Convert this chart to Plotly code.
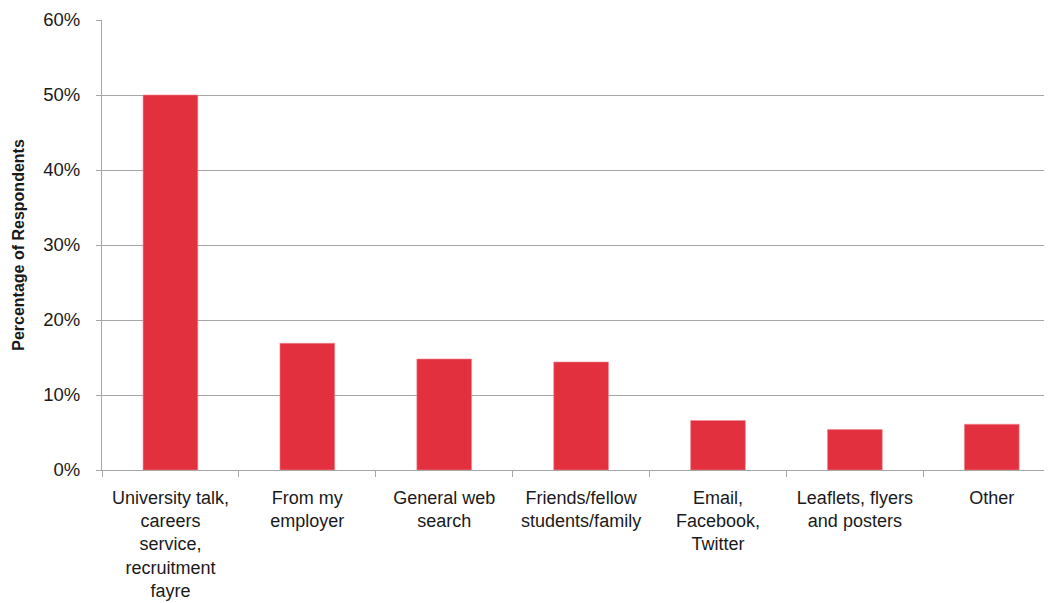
import plotly.graph_objects as go

# 數據
categories = [
    "University talk,<br>careers<br>service,<br>recruitment<br>fayre",
    "From my<br>employer",
    "General web<br>search",
    "Friends/fellow<br>students/family",
    "Email,<br>Facebook,<br>Twitter",
    "Leaflets, flyers<br>and posters",
    "Other",
]
percentages = [50.0, 16.9, 14.8, 14.4, 6.6, 5.4, 6.1]

BAR_COLOR = "#E3303F"
GRID_COLOR = "#A6A6A6"
FONT = "Liberation Sans, Arial, sans-serif"

fig = go.Figure()

fig.add_trace(
    go.Bar(x=categories, y=percentages,
           marker=dict(color=BAR_COLOR, line=dict(color="#F08A92", width=0.6)),
           width=0.4, showlegend=False)
)

# 頁面 body 有 8px 外距，故邊距整體左移/上移 8px
fig.update_layout(
    width=1052, height=603,
    margin=dict(l=94, r=8, t=12, b=141),
    plot_bgcolor="white", paper_bgcolor="white",
    font=dict(family=FONT, size=18, color="#1a1a1a"),
)

fig.update_xaxes(
    range=[-0.5, 6.44],
    automargin=False,
    showline=True, linecolor=GRID_COLOR, linewidth=1,
    ticks="outside", tickson="boundaries", ticklen=6, tickcolor=GRID_COLOR,
    ticklabelstandoff=11,
    tickfont=dict(size=18),
    showgrid=False,
)

fig.update_yaxes(
    range=[0, 60], dtick=10, ticksuffix="%",
    automargin=False,
    showgrid=True, gridcolor=GRID_COLOR, gridwidth=1,
    showline=True, linecolor=GRID_COLOR, linewidth=1,
    ticks="outside", ticklen=5, tickcolor=GRID_COLOR,
    ticklabelstandoff=12,
    tickfont=dict(size=18.5),
    zeroline=False,
    title=dict(text="<b>Percentage of Respondents</b>", font=dict(size=16), standoff=14),
)

fig.write_html("out.html")
